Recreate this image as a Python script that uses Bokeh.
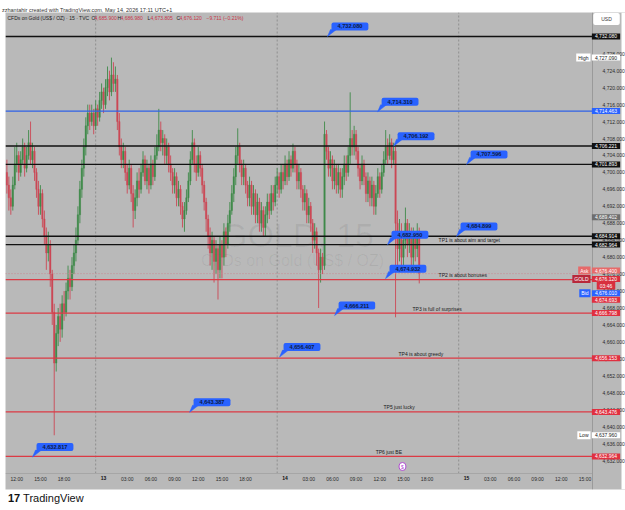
from bokeh.plotting import figure
from bokeh.models import (Range1d, FixedTicker, NumeralTickFormatter, Label, Div, Spacer,
                          ColumnDataSource, LinearAxis)
from bokeh.layouts import column, row
from bokeh.embed import file_html
from bokeh.resources import INLINE

FONT = "Liberation Sans"
BG = "#b9b9b9"
UP = "#3f8a4a"
DOWN = "#cc4856"

# ---------------- data (15-minute bars, bar 0 = 13 May 00:00) ----------------
first_bar = -49
first_open = 4700.0
closes = [4697, 4694, 4692, 4697, 4702, 4704, 4700, 4703, 4706, 4701, 4704, 4707, 4703, 4705,
          4700, 4696, 4692, 4695, 4689, 4685, 4681, 4683,
          4676, 4667, 4655, 4662, 4666, 4663, 4669, 4667, 4672, 4675, 4673, 4678, 4681, 4684,
          4690, 4696, 4701, 4706, 4711, 4714,
          4712, 4714, 4711, 4715, 4713, 4717, 4719, 4716, 4720, 4722, 4719, 4723, 4721, 4722,
          4712, 4706, 4703, 4705, 4700, 4697, 4701, 4695, 4691, 4694, 4698,
          4696, 4700, 4703, 4698, 4701, 4697, 4702, 4699, 4704, 4706, 4710, 4707,
          4708, 4704, 4706, 4702, 4700, 4697, 4699, 4694, 4696, 4692, 4689, 4691, 4694,
          4698, 4703, 4707, 4702, 4700, 4704, 4701, 4697, 4693, 4689,
          4685, 4681, 4684, 4679, 4682, 4677, 4683, 4680, 4686, 4683, 4688, 4691,
          4695, 4699, 4704, 4706, 4702, 4699,
          4701, 4697, 4694, 4697, 4692, 4695, 4690, 4693, 4688, 4691, 4687, 4690, 4693,
          4691, 4695, 4693, 4697, 4699, 4696, 4700, 4698, 4702, 4699, 4703, 4701, 4705, 4702,
          4698, 4700, 4696, 4693, 4695, 4690, 4692, 4688, 4684, 4686, 4681, 4677, 4680, 4678,
          4709,
          4705, 4701, 4703, 4698, 4701, 4697, 4700, 4696, 4699, 4702, 4700, 4704, 4708, 4706, 4709, 4705,
          4701, 4698, 4702, 4699, 4695, 4698, 4694, 4697, 4692, 4695, 4699, 4696, 4700,
          4703, 4706, 4704, 4707, 4703, 4705,
          4688,
          4682, 4686, 4680, 4684, 4688, 4683, 4686, 4680, 4685, 4682, 4685.9, 4676.12]
highs = [4703, 4699, 4696, 4699, 4706, 4707, 4705, 4705, 4708, 4707, 4706, 4710, 4712, 4707,
         4706, 4701, 4698, 4697, 4696, 4691, 4687, 4686,
         4684, 4677, 4669, 4664, 4668, 4669, 4671, 4672, 4674, 4678, 4677, 4680, 4683, 4687,
         4692, 4698, 4703, 4708, 4713, 4716,
         4716, 4716, 4715, 4717, 4716, 4719, 4721, 4720, 4722, 4725, 4724, 4727.09, 4726, 4725,
         4723, 4714, 4708, 4707, 4706, 4702, 4703, 4702, 4697, 4696, 4700,
         4701, 4702, 4705, 4704, 4703, 4702, 4704, 4703, 4706, 4709, 4715, 4712,
         4710, 4709, 4708, 4707, 4704, 4701, 4701, 4700, 4698, 4697, 4693, 4693, 4696,
         4700, 4705, 4710, 4708, 4704, 4706, 4705, 4702, 4698, 4694,
         4690, 4687, 4686, 4685, 4684, 4683, 4685, 4684, 4688, 4687, 4690, 4693,
         4697, 4701, 4706, 4710.4, 4707, 4703,
         4703, 4702, 4698, 4699, 4698, 4697, 4696, 4695, 4694, 4693, 4692, 4692, 4695,
         4695, 4697, 4697, 4699, 4701, 4700, 4702, 4702, 4704, 4703, 4705, 4704, 4706.8, 4706,
         4703, 4702, 4701, 4697, 4697, 4696, 4694, 4693, 4689, 4688, 4687, 4682, 4682, 4681,
         4712,
         4710, 4706, 4705, 4704, 4703, 4702, 4702, 4701, 4701, 4704, 4704, 4706, 4718.9, 4710, 4711, 4710,
         4706, 4702, 4704, 4703, 4700, 4700, 4699, 4699, 4698, 4697, 4701, 4700, 4702,
         4705, 4710, 4708, 4709, 4708, 4707,
         4706,
         4691, 4689, 4688, 4686, 4691.7, 4689, 4688, 4687, 4687, 4686, 4688, 4686.98]
lows = [4695, 4691, 4690, 4691, 4696, 4700, 4698, 4699, 4702, 4699, 4700, 4703, 4702, 4701,
        4698, 4694, 4690, 4690, 4687, 4683, 4677, 4679,
        4673, 4664, 4637.96, 4653, 4659, 4660, 4661, 4665, 4666, 4670, 4670, 4672, 4676, 4679,
        4683, 4688, 4694, 4699, 4704, 4709,
        4710, 4711, 4709, 4710, 4711, 4712, 4715, 4714, 4715, 4718, 4717, 4718, 4719, 4719,
        4710, 4704, 4701, 4701, 4698, 4695, 4696, 4693, 4687, 4689, 4692,
        4694, 4695, 4699, 4697, 4696, 4695, 4696, 4697, 4698, 4703, 4705, 4705,
        4704, 4702, 4702, 4700, 4698, 4695, 4695, 4692, 4692, 4690, 4687, 4686, 4690,
        4693, 4697, 4702, 4700, 4698, 4699, 4699, 4695, 4691, 4686,
        4682, 4678, 4677, 4674, 4676, 4670, 4675, 4675, 4678, 4680, 4682, 4686,
        4690, 4693, 4697, 4702, 4700, 4697,
        4697, 4695, 4692, 4692, 4690, 4690, 4688, 4688, 4686, 4686, 4685, 4685, 4688,
        4689, 4690, 4691, 4692, 4695, 4694, 4695, 4696, 4697, 4697, 4698, 4699, 4700, 4700,
        4696, 4696, 4694, 4691, 4691, 4688, 4688, 4686, 4681, 4682, 4678, 4668, 4674, 4676,
        4677,
        4703, 4699, 4699, 4696, 4696, 4695, 4695, 4694, 4694, 4697, 4698, 4699, 4702, 4704, 4704, 4703,
        4699, 4696, 4697, 4697, 4693, 4693, 4692, 4692, 4690, 4690, 4694, 4694, 4695,
        4699, 4702, 4702, 4703, 4701, 4702,
        4665.8,
        4678, 4679, 4677, 4678, 4682, 4680, 4681, 4677, 4678, 4679, 4680, 4673.805]
opens = [first_open] + closes[:-1]
bars = list(range(first_bar, first_bar + len(closes)))

time_tick_bars = [-44, -32, -20, 12, 24, 36, 48, 60, 72, 104, 116, 128, 140, 152, 164,
                  196, 208, 220, 232, 244]
time_tick_labels = ["12:00", "15:00", "18:00", "03:00", "06:00", "09:00", "12:00", "15:00",
                    "18:00", "03:00", "06:00", "09:00", "12:00", "15:00", "18:00",
                    "03:00", "06:00", "09:00", "12:00", "15:00"]
day_tick_bars = [0, 92, 184]
day_tick_labels = ["13", "14", "15"]
y_ticks = [4632, 4636, 4640, 4644, 4648, 4652, 4656, 4660, 4664, 4668, 4672, 4676, 4680,
           4684, 4688, 4692, 4696, 4700, 4704, 4708, 4712, 4716, 4720, 4724, 4728]
session_breaks = [-4, 88, 180]

black_levels = [4732.080, 4706.221, 4701.893, 4684.914, 4682.964]
blue_levels = [4714.463]
red_levels = [4674.693, 4666.798, 4656.153, 4643.476, 4632.964]
last_price = 4676.120

callout_texts = ["4,732.080", "4,714.310", "4,706.192", "4,707.596", "4,684.899", "4,682.950",
                 "4,674.932", "4,666.211", "4,656.407", "4,643.387", "4,632.817"]
callout_bars = [113.5, 138.9, 147.0, 184.0, 178.9, 143.9, 142.9, 117.1, 89.2, 43.6, -36.0]
callout_prices = [4732.08, 4714.31, 4706.19, 4701.89, 4684.90, 4682.95, 4674.93, 4666.21,
                  4656.41, 4643.39, 4632.82]

tp_texts = ["TP1 is about aim and target", "TP2 is about bonuses", "TP3 is full of surprises",
            "TP4 is about greedy", "TP5 just lucky", "TP6 just BE"]
tp_bars = [169.8, 169.8, 156.6, 149.5, 141.9, 137.9]
tp_prices = [4682.964, 4674.693, 4666.798, 4656.153, 4643.476, 4632.964]

axis_box_prices = [4732.080, 4714.463, 4706.221, 4701.893, 4689.402, 4684.914, 4682.964,
                   4666.798, 4656.153, 4643.476, 4632.964]
axis_box_colors = ["#111111", "#2962ff", "#111111", "#111111", "#6e6e6e", "#111111", "#111111",
                   "#e03040", "#e03040", "#e03040", "#e03040"]
high_price, low_price = 4727.090, 4637.960
ask_price, bid_price = 4676.400, 4676.010
countdown = "03:46"
legend_title = "CFDs on Gold (US$ / OZ) · 15 · TVC"
ohlc_last = ["4,685.900", "4,686.980", "4,673.805", "4,676.120"]
change_text = "−9.711 (−0.21%)"
event_bars = [151.5]

# ---------------- geometry (page pixels) ----------------
PX_PER_BAR = 1.973
PX_PER_USD = 4.237
FRAME_L, FRAME_R, FRAME_T, FRAME_B = 5, 625, 12, 489
x0 = -49.7                      # bar index at page x = 5
y_top = 4737.74                 # price at page y = 12
def bar_at(px):
    return x0 + (px - FRAME_L) / PX_PER_BAR
def price_at(py):
    return y_top - (py - FRAME_T) / PX_PER_USD
def sx(px):
    return px - FRAME_L
def sy(py):
    return FRAME_B - py

SCALE_X = bar_at(592)           # price-scale separator
TIME_SEP = price_at(473)        # time-scale separator
TIME_AXIS = price_at(466)       # where the time labels hang from
Y_BOTTOM = price_at(FRAME_B)

p = figure(width=621, height=478,
           x_range=Range1d(x0, bar_at(FRAME_R)), y_range=Range1d(Y_BOTTOM, y_top),
           y_axis_location="right", output_backend="svg", toolbar_location=None,
           min_border_left=1, min_border_right=0, min_border_top=0, min_border_bottom=1,
           background_fill_color=BG, border_fill_color="white", outline_line_color=None)
p.xgrid.visible = False
p.ygrid.visible = False

day_axis = LinearAxis()
p.add_layout(day_axis, "below")

def style_axis(ax):
    ax.axis_line_color = None
    ax.major_tick_line_color = None
    ax.minor_tick_line_color = None
    ax.major_label_text_font = FONT
    ax.major_label_text_font_size = "5px"
    ax.major_label_text_color = "#2b2b2b"

for ax in (p.xaxis[0], day_axis, p.yaxis[0]):
    style_axis(ax)
p.yaxis[0].axis_line_color = "#9a9a9a"
for ax in (p.xaxis[0], day_axis):
    ax.fixed_location = TIME_AXIS
    ax.major_label_standoff = 3
p.xaxis[0].ticker = FixedTicker(ticks=time_tick_bars)
p.xaxis[0].major_label_overrides = {b: t for b, t in zip(time_tick_bars, time_tick_labels)}
day_axis.ticker = FixedTicker(ticks=day_tick_bars)
day_axis.major_label_overrides = {b: t for b, t in zip(day_tick_bars, day_tick_labels)}
day_axis.major_label_text_font_style = "bold"
day_axis.major_label_text_color = "#111111"
p.yaxis.fixed_location = SCALE_X
p.yaxis.ticker = FixedTicker(ticks=y_ticks)
p.yaxis.formatter = NumeralTickFormatter(format="0,0.000")
p.yaxis.major_label_standoff = 4

# white margin right of the panel
p.quad(left=[bar_at(621)], right=[bar_at(FRAME_R)], bottom=[Y_BOTTOM], top=[y_top],
       fill_color="white", line_color=None, level="underlay")

# watermark
p.add_layout(Label(x=sx(297), y=sy(234), x_units="screen", y_units="screen", text="GOLD, 15",
                   text_align="center", text_baseline="middle", text_font=FONT,
                   text_font_size="34px", text_color="#000000", text_alpha=0.06, level="underlay"))
p.add_layout(Label(x=sx(292), y=sy(260), x_units="screen", y_units="screen",
                   text="CFDs on Gold (US$ / OZ)", text_align="center", text_baseline="middle",
                   text_font=FONT, text_font_size="16px", text_color="#000000", text_alpha=0.06,
                   level="underlay"))

# session breaks and time-scale separator
p.segment(x0=session_breaks, x1=session_breaks, y0=[TIME_SEP] * len(session_breaks),
          y1=[y_top] * len(session_breaks), line_color="#8f8f8f", line_dash="2 2", line_width=1)
p.segment(x0=[x0], x1=[SCALE_X], y0=[TIME_SEP], y1=[TIME_SEP], line_color="#a6a6a6",
          line_width=1)

# candles
colors = [UP if c >= o else DOWN for o, c in zip(opens, closes)]
src = ColumnDataSource(dict(x=bars, h=highs, l=lows,
                            top=[max(o, c) for o, c in zip(opens, closes)],
                            bot=[min(o, c) for o, c in zip(opens, closes)], color=colors))
p.segment(x0="x", y0="l", x1="x", y1="h", line_color="color", line_width=0.9, source=src)
p.vbar(x="x", width=0.72, top="top", bottom="bot", fill_color="color", line_color="color",
       line_width=0.4, source=src)

# level lines (drawn over the candles, stopping at the price scale)
def hlines(levels, color, width, dash="solid"):
    n = len(levels)
    p.segment(x0=[x0] * n, x1=[SCALE_X] * n, y0=levels, y1=levels, line_color=color,
              line_width=width, line_dash=dash)
hlines([last_price], "#c98a92", 1, "1 2")
hlines(black_levels, "#111111", 1.4)
hlines(blue_levels, "#2f62e8", 1.4)
hlines(red_levels, "#dc3a44", 1.2)

# TP notes
for t, b, pr in zip(tp_texts, tp_bars, tp_prices):
    p.add_layout(Label(x=b, y=pr, text=t, y_offset=1.5, text_align="left", text_baseline="bottom",
                       text_font=FONT, text_font_size="5px", text_color="#1a1a1a"))

# callouts
tail_xs, tail_ys = [], []
for b, pr in zip(callout_bars, callout_prices):
    tail_xs.append([b, b + 3 / PX_PER_BAR, b + 9 / PX_PER_BAR])
    tail_ys.append([pr, pr + 7 / PX_PER_USD, pr + 7 / PX_PER_USD])
p.patches(xs=tail_xs, ys=tail_ys, fill_color="#2962ff", line_color="#2962ff", line_width=0.5)
for t, b, pr in zip(callout_texts, callout_bars, callout_prices):
    p.add_layout(Label(x=b, y=pr, text=t, x_offset=4, y_offset=6, text_align="left",
                       text_baseline="bottom", text_font=FONT, text_font_size="5.6px",
                       text_font_style="bold", text_color="#0c1a44",
                       background_fill_color="#2962ff", border_radius=2,
                       padding=dict(left=6, right=6, top=2, bottom=2)))

def slabel(x, y, text, color="#1e1e1e", size="5px", align="left", bg=None, **kw):
    p.add_layout(Label(x=x, y=y, x_units="screen", y_units="screen", text=text,
                       text_align=align, text_baseline="middle", text_font=FONT,
                       text_font_size=size, text_color=color, background_fill_color=bg, **kw))

# legend (top-left)
LEG_Y = sy(17.7)
slabel(2, LEG_Y, legend_title)
for xs_, letter in zip([86, 112, 142, 171], ["O", "H", "L", "C"]):
    slabel(xs_, LEG_Y, letter)
for xs_, val in zip([89, 115, 145, 174], ohlc_last):
    slabel(xs_, LEG_Y, val, color="#c93447")
slabel(201, LEG_Y, change_text, color="#c93447")

# price-scale boxes
AX_X = sx(605.5)
TAG_X = sx(590)
PAD_AX = dict(left=3, right=3, top=1, bottom=1)
PAD_TAG = dict(left=2, right=2, top=1, bottom=1)
def axbox(price, text, bg, fg="#ffffff"):
    p.add_layout(Label(x=AX_X, y=price, x_units="screen", y_units="data", text=text,
                       text_align="center", text_baseline="middle", text_font=FONT,
                       text_font_size="5px", text_color=fg, background_fill_color=bg,
                       padding=PAD_AX))
def axtag(price, text, bg, fg="#ffffff"):
    p.add_layout(Label(x=TAG_X, y=price, x_units="screen", y_units="data", text=text,
                       text_align="right", text_baseline="middle", text_font=FONT,
                       text_font_size="5px", text_color=fg, background_fill_color=bg,
                       padding=PAD_TAG))

for pr, col in zip(axis_box_prices, axis_box_colors):
    axbox(pr, f"{pr:,.3f}", col)
axbox(high_price, f"{high_price:,.3f}", "#ffffff", fg="#222222")
axbox(low_price, f"{low_price:,.3f}", "#ffffff", fg="#222222")
axtag(high_price, "High", "#ffffff", fg="#222222")
axtag(low_price, "Low", "#ffffff", fg="#222222")

# ask / last / bid stack (pushed apart as on the price scale)
def stack(y_page, text, bg, tag=None, tagbg=None):
    slabel(AX_X, sy(y_page), text, color="#ffffff", align="center", bg=bg, padding=PAD_AX)
    if tag:
        slabel(TAG_X, sy(y_page), tag, color="#ffffff", align="right", bg=tagbg, padding=PAD_TAG)

stack(270, f"{ask_price:,.3f}", "#e66a6a", "Ask", "#e66a6a")
stack(278.5, f"{last_price:,.3f}", "#d8303e", "GOLD", "#b8283a")
stack(285, countdown, "#d8303e")
stack(292.7, f"{bid_price:,.3f}", "#2962ff", "Bid", "#2962ff")
stack(299.3, f"{red_levels[0]:,.3f}", "#e03040")

# USD box
slabel(sx(606), sy(18.5), "USD", color="#333333", align="center", bg="#ffffff",
       padding=dict(left=8, right=8, top=3, bottom=3), border_radius=2)

# event marker
for b in event_bars:
    p.add_layout(Label(x=b, y=sy(466), y_units="screen", text="$", text_align="center",
                       text_baseline="middle", text_font=FONT, text_font_size="5px",
                       text_color="#b04ad0", background_fill_color="#ffffff",
                       border_line_color="#b04ad0", border_line_width=1, border_radius=4,
                       padding=dict(left=2, right=2, top=1, bottom=1)))

top = Div(text="<span style='font-family:Liberation Sans;font-size:5.5px;color:#333;"
               "white-space:nowrap;line-height:10px'>zzhantahir created with TradingView.com, "
               "May 14, 2026 17:11 UTC+1</span>",
          width=625, height=12, margin=0, styles={"padding-left": "2px", "background": "white"})
bottom = Div(text="<span style='font-family:Liberation Sans;font-size:11px;color:#111;"
                  "white-space:nowrap;line-height:16px'><b style='font-weight:900'>17</b> TradingView</span>",
             width=625, height=20, margin=0, styles={"padding-left": "8px", "background": "white"})
layout = column(top, row(Spacer(width=4, height=478), p), bottom, spacing=0)

open("out.html", "w").write(file_html(layout, INLINE))
